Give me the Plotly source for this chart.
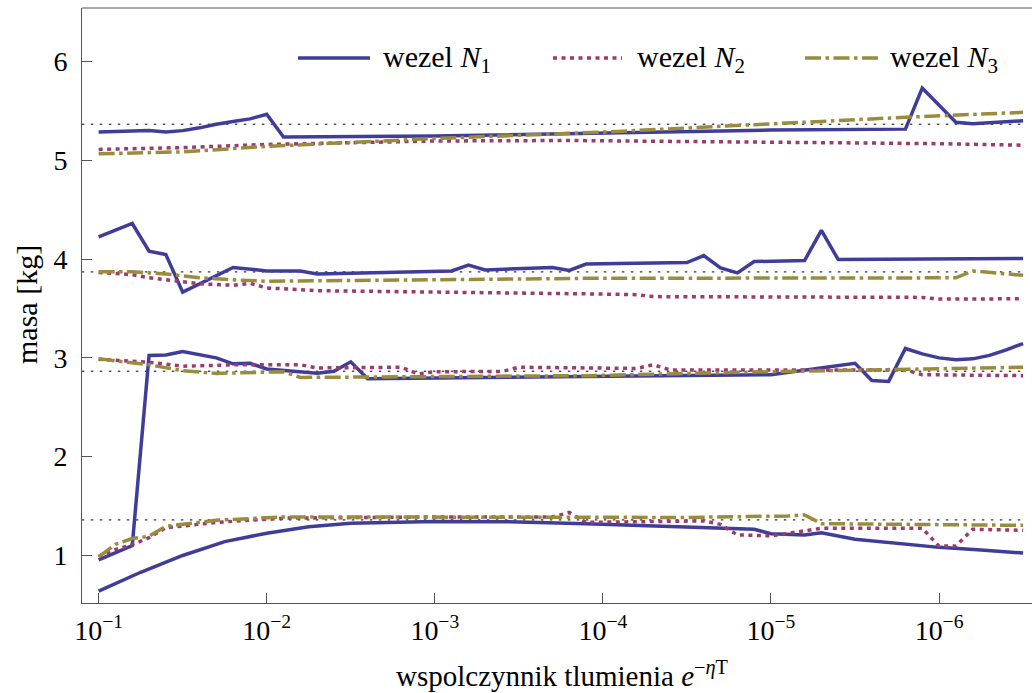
import plotly.graph_objects as go

# ---------------------------------------------------------------
# Data: x is the damping factor e^{-eta T}, stored as log10 exponents
# four mass levels, three nodes (N1, N2, N3) each
# ---------------------------------------------------------------

# level 1 (about 5.3 kg)
n1_l1_exp = [-1.0, -1.1, -1.2, -1.3, -1.4, -1.5, -1.6, -1.7, -1.8, -1.9, -2.0, -2.1,
             -3.0, -4.0, -5.0, -5.8, -5.9, -6.1, -6.2, -6.5]
n1_l1_val = [5.285, 5.29, 5.29, 5.30, 5.287, 5.30, 5.328, 5.365, 5.392, 5.419, 5.465, 5.235,
             5.245, 5.275, 5.305, 5.315, 5.73, 5.385, 5.37, 5.40]
n2_l1_exp = [-1.0, -1.5, -2.0, -2.5, -3.0, -3.8, -5.0, -6.0, -6.5]
n2_l1_val = [5.11, 5.128, 5.16, 5.18, 5.195, 5.2, 5.185, 5.168, 5.152]
n3_l1_exp = [-1.0, -1.5, -2.0, -2.5, -3.0, -4.0, -5.0, -5.8, -6.5]
n3_l1_val = [5.065, 5.085, 5.14, 5.18, 5.22, 5.285, 5.37, 5.435, 5.485]

# level 2 (about 3.9 kg)
n1_l2_exp = [-1.0, -1.2, -1.3, -1.4, -1.5, -1.8, -2.0, -2.2, -2.3, -3.1, -3.2, -3.3,
             -3.7, -3.8, -3.9, -4.5, -4.6, -4.7, -4.8, -4.9, -5.2, -5.3, -5.4, -6.5]
n1_l2_val = [4.225, 4.36, 4.08, 4.045, 3.665, 3.915, 3.88, 3.88, 3.85, 3.88, 3.94, 3.89,
             3.915, 3.885, 3.95, 3.965, 4.035, 3.91, 3.86, 3.975, 3.985, 4.29, 3.995, 4.005]
n2_l2_exp = [-1.0, -1.2, -1.3, -1.4, -1.6, -1.8, -1.9, -2.0, -2.3, -3.9, -4.2, -4.3,
             -5.9, -6.0, -6.5]
n2_l2_val = [3.865, 3.842, 3.81, 3.79, 3.75, 3.735, 3.755, 3.708, 3.68, 3.648, 3.64, 3.62,
             3.612, 3.595, 3.598]
n3_l2_exp = [-1.0, -1.2, -1.4, -1.6, -1.8, -2.0, -3.9, -6.1, -6.2, -6.5]
n3_l2_val = [3.872, 3.872, 3.85, 3.81, 3.79, 3.775, 3.805, 3.81, 3.88, 3.835]

# level 3 (about 2.9 kg)
n1_l3_exp = [-1.0, -1.1, -1.2, -1.3, -1.4, -1.5, -1.7, -1.8, -1.9, -2.0, -2.2, -2.3, -2.4,
             -2.5, -2.6, -3.0, -4.0, -5.0, -5.5, -5.6, -5.7, -5.8, -5.9, -6.0, -6.1,
             -6.2, -6.3, -6.4, -6.5]
n1_l3_val = [0.956, 1.03, 1.10, 3.025, 3.03, 3.065, 3.0, 2.94, 2.945, 2.888, 2.855, 2.845, 2.865,
             2.96, 2.788, 2.795, 2.805, 2.83, 2.945, 2.77, 2.762, 3.095, 3.04, 3.0, 2.982,
             2.99, 3.025, 3.08, 3.145]
n2_l3_exp = [-1.0, -1.3, -1.5, -1.8, -2.2, -2.3, -2.8, -2.9, -3.0, -3.4, -3.5, -4.2, -4.3,
             -4.4, -5.8, -5.9, -6.5]
n2_l3_val = [2.985, 2.955, 2.915, 2.93, 2.93, 2.898, 2.905, 2.838, 2.86, 2.862, 2.905, 2.893,
             2.93, 2.878, 2.878, 2.83, 2.82]
n3_l3_exp = [-1.0, -1.3, -1.5, -1.7, -2.1, -2.2, -3.9, -5.0, -6.5]
n3_l3_val = [2.99, 2.93, 2.87, 2.843, 2.86, 2.802, 2.82, 2.86, 2.905]

# level 4 (about 1.3 kg)
n1_l4_exp = [-1.0, -1.25, -1.5, -1.75, -2.0, -2.25, -2.5, -3.0, -3.5, -3.9, -4.9, -5.0,
             -5.2, -5.3, -5.5, -5.75, -6.0, -6.25, -6.5]
n1_l4_val = [0.64, 0.83, 1.0, 1.14, 1.225, 1.29, 1.325, 1.345, 1.34, 1.322, 1.265, 1.22,
             1.208, 1.23, 1.165, 1.12, 1.082, 1.055, 1.025]
n2_l4_exp = [-1.0, -1.1, -1.2, -1.3, -1.4, -1.7, -2.1, -3.0, -3.7, -3.8, -3.9, -4.6, -4.7,
             -4.8, -5.0, -5.2, -5.3, -5.9, -6.0, -6.1, -6.2, -6.5]
n2_l4_val = [0.99, 1.06, 1.11, 1.18, 1.28, 1.335, 1.378, 1.39, 1.39, 1.435, 1.335, 1.35, 1.315,
             1.208, 1.198, 1.255, 1.275, 1.275, 1.095, 1.095, 1.265, 1.255]
n3_l4_exp = [-1.0, -1.1, -1.2, -1.3, -1.4, -1.7, -2.1, -3.9, -4.5, -5.1, -5.2, -5.3, -6.5]
n3_l4_val = [0.985, 1.112, 1.172, 1.195, 1.295, 1.357, 1.39, 1.383, 1.385, 1.4, 1.41, 1.322, 1.305]

# target mass levels (dotted reference lines)
ref_levels = [5.365, 3.87, 2.865, 1.36]
ref_exp_span = [-0.9, -6.5]

# axis ticks
x_tick_exp = [-1, -2, -3, -4, -5, -6]
x_tick_text = ["10<sup>\u22121</sup>", "10<sup>\u22122</sup>", "10<sup>\u22123</sup>",
               "10<sup>\u22124</sup>", "10<sup>\u22125</sup>", "10<sup>\u22126</sup>"]
y_tick_vals = [1, 2, 3, 4, 5, 6]

legend_names = ["wezel <i>N</i><sub>1</sub>", "wezel <i>N</i><sub>2</sub>",
                "wezel <i>N</i><sub>3</sub>"]
x_title = "wspolczynnik tlumienia <i>e</i><sup>\u2212<i>\u03b7</i>T</sup>"
y_title = "masa [kg]"

# ---------------------------------------------------------------
# Styling
# ---------------------------------------------------------------
W, H = 1032, 693
ML, MR, MT, MB = 82, 0, 8, 90
FONT = "Liberation Serif"
AXIS_GREY = "#555555"

C1 = "rgb(63,61,153)"
C2 = "rgb(153,61,113)"
C3 = "rgb(153,140,61)"
styles = [
    dict(color=C1, width=3.5, dash="solid"),
    dict(color=C2, width=3.5, dash="4px,4.5px"),
    dict(color=C3, width=3.5, dash="16px,4.5px,3.5px,4.5px"),
]


def to_x(exps):
    return [10 ** e for e in exps]


fig = go.Figure()

for lvl in ref_levels:
    fig.add_trace(go.Scatter(
        x=to_x(ref_exp_span), y=[lvl, lvl], mode="lines",
        line=dict(color="black", width=1, dash="2.5px,6.5px"),
        hoverinfo="skip", showlegend=False))

series = [
    (n1_l1_exp, n1_l1_val, 0), (n2_l1_exp, n2_l1_val, 1), (n3_l1_exp, n3_l1_val, 2),
    (n1_l2_exp, n1_l2_val, 0), (n2_l2_exp, n2_l2_val, 1), (n3_l2_exp, n3_l2_val, 2),
    (n1_l3_exp, n1_l3_val, 0), (n2_l3_exp, n2_l3_val, 1), (n3_l3_exp, n3_l3_val, 2),
    (n1_l4_exp, n1_l4_val, 0), (n2_l4_exp, n2_l4_val, 1), (n3_l4_exp, n3_l4_val, 2),
]
# node 1 first, then node 2, then node 3 on top
for node in range(3):
    for ex, val, k in series:
        if k != node:
            continue
        fig.add_trace(go.Scatter(
            x=to_x(ex), y=val, mode="lines", line=styles[k],
            showlegend=False))

plot_w = W - ML - MR
plot_h = H - MT - MB


def px_x(px):
    return (px - ML) / plot_w


def px_y(py):
    return (H - MB - py) / plot_h


# legend row drawn inside the frame
legend_pos = [(298, 370, 381), (553, 622, 635), (805, 878, 888)]
legend_y = 58
shapes = []
annotations = []
for (x0, x1, tx), st, name in zip(legend_pos, styles, legend_names):
    shapes.append(dict(type="line", xref="paper", yref="paper",
                       x0=px_x(x0), x1=px_x(x1), y0=px_y(legend_y), y1=px_y(legend_y),
                       line=st))
    annotations.append(dict(xref="paper", yref="paper", x=px_x(tx), y=px_y(legend_y + 1),
                            text=name, showarrow=False, xanchor="left", yanchor="middle",
                            font=dict(family=FONT, size=30, color="black")))

# axis titles
annotations.append(dict(xref="paper", yref="paper", x=px_x(562), y=px_y(694),
                        text=x_title, showarrow=False, xanchor="center", yanchor="bottom",
                        font=dict(family=FONT, size=29, color="black")))
annotations.append(dict(xref="paper", yref="paper", x=px_x(26), y=px_y(305),
                        text=y_title, showarrow=False, xanchor="center", yanchor="middle",
                        textangle=-90, font=dict(family=FONT, size=30, color="black")))

# top frame line
shapes.append(dict(type="line", xref="paper", yref="paper", x0=0, x1=1, y0=1, y1=1,
                   line=dict(color=AXIS_GREY, width=1)))

fig.update_layout(
    width=W, height=H,
    margin=dict(l=ML, r=MR, t=MT, b=MB, pad=0),
    paper_bgcolor="white", plot_bgcolor="white",
    font=dict(family=FONT, size=28, color="black"),
    shapes=shapes, annotations=annotations,
    showlegend=False,
)

fig.update_xaxes(
    type="log", range=[-0.901, -6.553],
    tickvals=to_x(x_tick_exp), ticktext=x_tick_text,
    ticks="inside", ticklen=10, tickcolor=AXIS_GREY, tickwidth=1,
    showline=True, linecolor=AXIS_GREY, linewidth=1,
    showgrid=False, zeroline=False,
    ticklabelstandoff=2,
    tickfont=dict(family=FONT, size=28),
)
fig.update_yaxes(
    range=[0.519, 6.541],
    tickvals=y_tick_vals,
    ticks="inside", ticklen=10, tickcolor=AXIS_GREY, tickwidth=1,
    showline=True, linecolor=AXIS_GREY, linewidth=1,
    showgrid=False, zeroline=False,
    ticklabelstandoff=8,
    tickfont=dict(family=FONT, size=28),
)

fig.write_html("out.html")
